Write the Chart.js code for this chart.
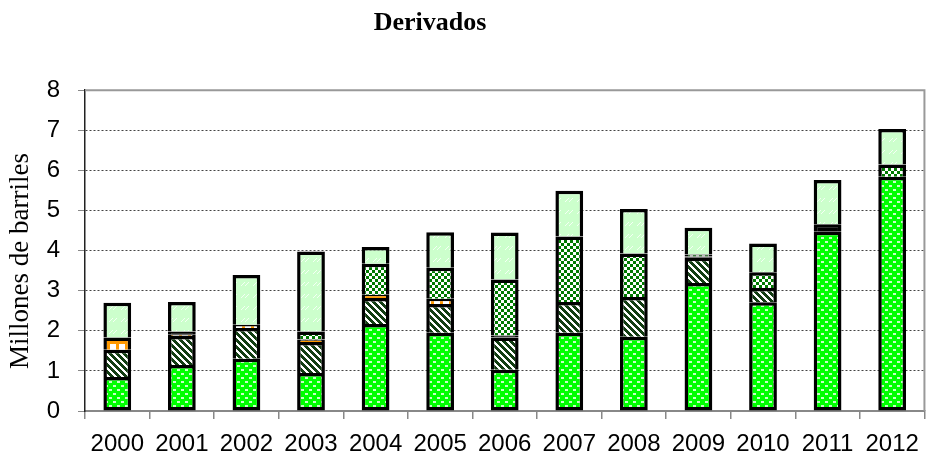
<!DOCTYPE html>
<html><head><meta charset="utf-8">
<script src="https://cdn.jsdelivr.net/npm/chart.js@4.4.0/dist/chart.umd.min.js"></script>
<style>html,body{margin:0;padding:0;background:#fff}#wrap{width:930px;height:464px}</style>
</head><body><div id="wrap"><canvas id="c" width="930" height="464"></canvas></div>
<script>
const TITLE = 'Derivados';
const Y_TITLE = 'Millones de barriles';
const categories = ['2000','2001','2002','2003','2004','2005','2006','2007','2008','2009','2010','2011','2012'];
const yTicks = [0,1,2,3,4,5,6,7,8];
const serieVerde   = [0.85,1.15,1.30,0.95,2.17,1.95,1.03,1.95,1.85,3.19,2.71,4.47,5.84];
const serieRayas   = [0.68,0.72,0.77,0.77,0.65,0.72,0.80,0.77,0.99,0.63,0.36,0,0];
const serieNaranja = [0.30,0.03,0.08,0.06,0.08,0.13,0,0,0,0,0,0,0];
const serieNegro   = [0,0.08,0,0,0,0,0.05,0,0,0.03,0,0.19,0];
const serieCuadros = [0,0,0,0.20,0.77,0.77,1.40,1.63,1.09,0.05,0.39,0,0.31];
const serieClaro   = [0.87,0.74,1.24,2.00,0.42,0.89,1.17,1.14,1.11,0.67,0.72,1.10,0.88];

const canvas = document.getElementById('c');
const mainCtx = canvas.getContext('2d');
function tile(w,h,draw){const c=document.createElement('canvas');c.width=w;c.height=h;const g=c.getContext('2d');draw(g,w,h);return mainCtx.createPattern(c,'repeat');}

const patVerde = tile(8,8,(g)=>{g.fillStyle='#00FF00';g.fillRect(0,0,8,8);g.fillStyle='#C8FFC8';g.fillRect(1,1,3,2);g.fillRect(5,5,3,2);});
const patRayas = tile(7,7,(g)=>{g.fillStyle='#FFFFFF';g.fillRect(0,0,7,7);g.fillStyle='#123D12';for(let y=0;y<7;y++)for(let x=0;x<7;x++){if((((x-y)%7)+7)%7<4)g.fillRect(x,y,1,1);}});
const patNaranja = tile(9,9,(g)=>{g.fillStyle='#FF9900';g.fillRect(0,0,9,9);g.fillStyle='#FFFFFF';g.fillRect(2,2,6,6);});
const patCuadros = tile(6,6,(g)=>{g.fillStyle='#FFFFFF';g.fillRect(0,0,6,6);g.fillStyle='#007A00';g.fillRect(0,0,3,3);g.fillRect(3,3,3,3);});
const patClaro = tile(12,12,(g)=>{g.fillStyle='#CCFFCC';g.fillRect(0,0,12,12);g.strokeStyle='#F4FFF4';g.lineWidth=1;g.beginPath();g.moveTo(1,10);g.lineTo(5,6);g.moveTo(5,10);g.lineTo(9,6);g.stroke();});

function ds(label,data,bg,skip){return {label,data,backgroundColor:bg,borderColor:'#000',borderWidth:3.5,inflateAmount:0,borderSkipped:skip,barPercentage:0.43,categoryPercentage:1};}

const framePlugin = {id:'frame',
  beforeDatasetsDraw(chart){const a=chart.chartArea,ctx=chart.ctx;ctx.save();ctx.strokeStyle='#999';ctx.lineWidth=2;ctx.beginPath();ctx.moveTo(a.left,a.top);ctx.lineTo(a.right,a.top);ctx.lineTo(a.right,a.bottom);ctx.stroke();ctx.restore();},
  afterDraw(chart){const ctx=chart.ctx;ctx.save();ctx.translate(21,261);ctx.rotate(-Math.PI/2);ctx.font='27px "Liberation Serif", "Times New Roman", serif';ctx.fillStyle='#000';ctx.textAlign='center';ctx.textBaseline='middle';ctx.fillText(Y_TITLE,0,0);ctx.restore();},
  afterLayout(chart){ if(chart.titleBlock){ chart.titleBlock.left -= 33; chart.titleBlock.right -= 33; } }};

new Chart(canvas,{
  type:'bar',
  data:{labels:categories,datasets:[
    ds('Serie 1',serieVerde,patVerde,false),
    ds('Serie 2',serieRayas,patRayas,'start'),
    ds('Serie 3',serieNaranja,patNaranja,'start'),
    ds('Serie 4',serieNegro,'#000000','start'),
    ds('Serie 5',serieCuadros,patCuadros,'start'),
    ds('Serie 6',serieClaro,patClaro,'start')
  ]},
  options:{
    responsive:false, animation:false, devicePixelRatio:1,
    layout:{padding:{left:0,right:4,top:0,bottom:0}},
    plugins:{
      legend:{display:false}, tooltip:{enabled:false},
      title:{display:true,text:TITLE,color:'#000',font:{family:'"Liberation Serif", "Times New Roman", serif',size:26,weight:'bold'},padding:{top:8,bottom:51}}
    },
    scales:{
      x:{stacked:true,
        ticks:{color:'#000',font:{family:'"Liberation Sans", Arial, sans-serif',size:24},padding:11,maxRotation:0,autoSkip:false},
        grid:{display:true,drawOnChartArea:false,drawTicks:true,tickLength:8,color:'#888',offset:true,lineWidth:1.5},
        border:{display:true,color:'#888',width:2},
        afterFit(s){s.height=53;}
      },
      y:{stacked:true,min:0,max:8,
        afterBuildTicks(s){s.ticks=yTicks.map(v=>({value:v}));},
        ticks:{color:'#000',font:{family:'"Liberation Sans", Arial, sans-serif',size:24},padding:18},
        grid:{color:'#444',lineWidth:1,tickLength:7,tickColor:'#888',drawTicks:true},
        border:{display:true,color:'#222',width:1.5,dash:[2,2]},
        title:{display:false,text:Y_TITLE},
        afterFit(s){s.width=85;}
      }
    }
  },
  plugins:[framePlugin]
});
</script></body></html>
